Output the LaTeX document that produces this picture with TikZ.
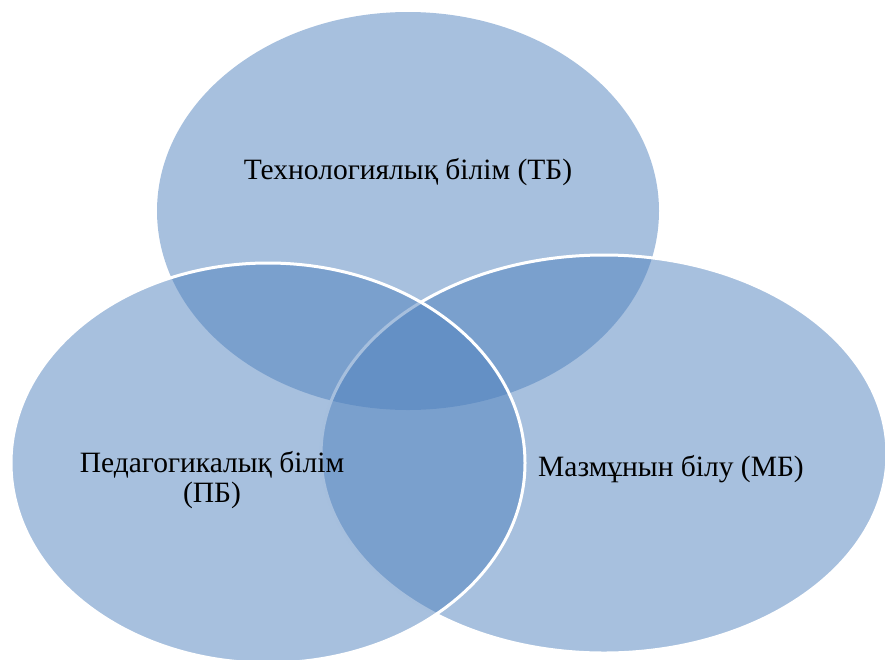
\documentclass[tikz,border=0pt]{standalone}
\usepackage{fontspec}
\setmainfont{Liberation Serif}
\definecolor{accent}{HTML}{4F81BD}

\begin{document}
\begin{tikzpicture}[x=1pt, y=-1pt,
	circ/.style={fill=accent, fill opacity=0.5},
	rim/.style={draw=white, line width=3pt},
	lbl/.style={font=\fontsize{29.5}{30}\selectfont, align=center, text=black}]
\useasboundingbox (0,0) rectangle (885,659);

% three knowledge areas
\path[circ] (408,211) ellipse [x radius=251, y radius=199];
\path[circ, rim] (604,454) ellipse [x radius=283, y radius=199];
\path[circ, rim] (268,463) ellipse [x radius=257, y radius=200];

\node[lbl] (tb) at (408,172) {Технологиялық білім (ТБ)};
\node[lbl] (pb) at (212,480) {Педагогикалық білім\\(ПБ)};
\node[lbl] (mb) at (671,469) {Мазмұнын білу (МБ)};
\end{tikzpicture}
\end{document}
